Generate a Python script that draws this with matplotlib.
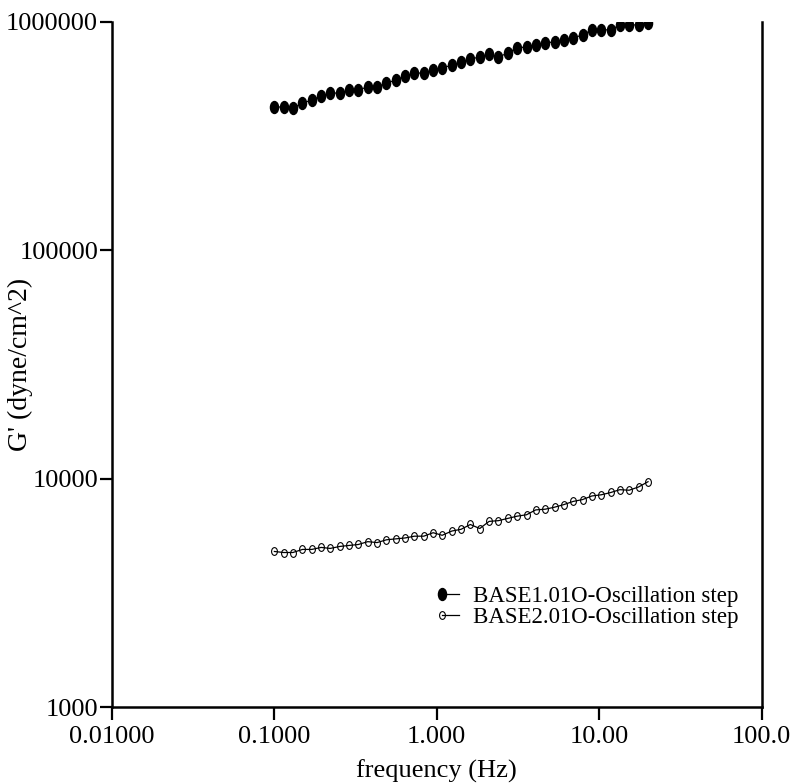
import numpy as np
import matplotlib
matplotlib.use('Agg')
import matplotlib.pyplot as plt
from matplotlib.markers import MarkerStyle
from matplotlib.transforms import Affine2D
from matplotlib.legend_handler import HandlerLine2D
from matplotlib.lines import Line2D

# frequencies (Hz)
freq = [0.100, 0.114, 0.130, 0.149, 0.170, 0.194, 0.221, 0.253, 0.288, 0.329,
        0.376, 0.429, 0.490, 0.559, 0.638, 0.729, 0.832, 0.950, 1.08, 1.24,
        1.41, 1.61, 1.84, 2.10, 2.40, 2.74, 3.12, 3.57, 4.07, 4.65,
        5.31, 6.06, 6.92, 7.90, 9.02, 10.3, 11.8, 13.4, 15.3, 17.5, 20.0]

# G' for BASE1 (dyne/cm^2)
g_base1 = [424e3, 424e3, 420e3, 441e3, 455e3, 474e3, 488e3, 488e3, 503e3, 503e3,
           520e3, 520e3, 540e3, 556e3, 580e3, 597e3, 597e3, 616e3, 628e3, 648e3,
           667e3, 688e3, 702e3, 724e3, 702e3, 731e3, 770e3, 777e3, 793e3, 809e3,
           818e3, 834e3, 851e3, 877e3, 923e3, 923e3, 923e3, 970e3, 970e3, 970e3, 990e3]

# G' for BASE2 (dyne/cm^2)
g_base2 = [4800, 4750, 4750, 4900, 4900, 5000, 4950, 5050, 5100, 5150,
           5300, 5250, 5400, 5450, 5500, 5600, 5600, 5800, 5650, 5900,
           6000, 6300, 6050, 6500, 6550, 6700, 6850, 6950, 7300, 7350,
           7500, 7700, 7950, 8100, 8400, 8500, 8700, 8950, 8900, 9200, 9700]

leg1 = 'BASE1.01O-Oscillation step'
leg2 = 'BASE2.01O-Oscillation step'

x_ticks = [0.01, 0.1, 1, 10, 100]
x_ticklabels = ['0.01000', '0.1000', '1.000', '10.00', '100.0']
y_ticks = [1e3, 1e4, 1e5, 1e6]
y_ticklabels = ['1000', '10000', '100000', '1000000']


class LeftMarkerHandler(HandlerLine2D):
    # legend sample: marker only at the left end of the short line
    def create_artists(self, *args, **kwargs):
        arts = super().create_artists(*args, **kwargs)
        for a in arts:
            a.set_markevery([0])
        return arts


plt.rcParams['font.family'] = ['Liberation Serif', 'DejaVu Serif']
same_font = 19

fig = plt.figure(figsize=(7.97, 7.83), dpi=100, facecolor='w')
ax = fig.add_axes([0.1405, 0.097, 0.815, 0.875])

m_fill = MarkerStyle('o', transform=Affine2D().scale(0.68, 1.0))
m_open = MarkerStyle('o', transform=Affine2D().scale(0.75, 1.0))

ax.plot(freq, g_base1, 'k-', lw=0.9, marker=m_fill, markersize=8.6,
        markerfacecolor='k', markeredgecolor='k', label=leg1)
ax.plot(freq, g_base2, 'k-', lw=0.9, marker=m_open, markersize=5.6,
        markerfacecolor='none', markeredgecolor='k', markeredgewidth=0.8,
        label=leg2)

ax.set_xscale('log')
ax.set_yscale('log')
ax.set_xlim(0.01, 100)
ax.set_ylim(1e3, 1e6)

ax.xaxis.set_minor_locator(matplotlib.ticker.NullLocator())
ax.yaxis.set_minor_locator(matplotlib.ticker.NullLocator())
ax.set_xticks(x_ticks)
ax.set_xticklabels(x_ticklabels)
ax.set_yticks(y_ticks)
ax.set_yticklabels(y_ticklabels)

ax.tick_params(axis='both', direction='out', length=9, width=1.6,
               labelsize=same_font)
ax.tick_params(axis='x', pad=5)
ax.tick_params(axis='y', pad=1)
ax.spines['top'].set_visible(False)
for side in ['left', 'bottom', 'right']:
    ax.spines[side].set_linewidth(1.8)

ax.set_xlabel('frequency (Hz)', fontsize=same_font, labelpad=8)
ax.set_ylabel("G' (dyne/cm^2)", fontsize=same_font + 1)
ax.yaxis.set_label_coords(-0.122, 0.5)

ax.legend(loc='upper left', bbox_to_anchor=(0.497, 0.177), frameon=False,
          fontsize=16.5, handlelength=1.35, handletextpad=0.3,
          labelspacing=0.0, borderpad=0, borderaxespad=0, numpoints=2,
          handler_map={Line2D: LeftMarkerHandler()})

fig.savefig('out.png', dpi=100)
